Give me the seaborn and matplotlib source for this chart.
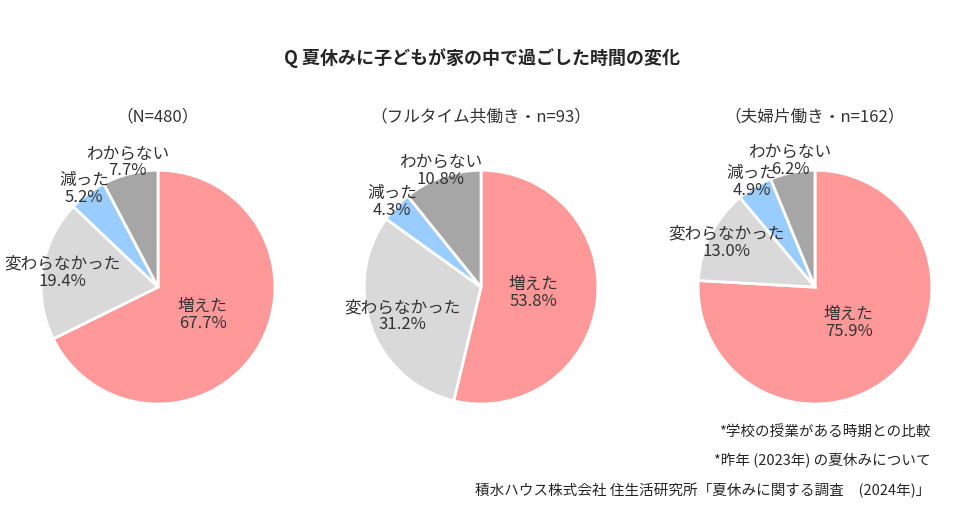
import seaborn as sns
import matplotlib.pyplot as plt
import numpy as np

sns.set_theme(style="white")
plt.rcParams['font.family'] = ['Noto Sans CJK JP', 'DejaVu Sans']

categories = ['増えた', '変わらなかった', '減った', 'わからない']
titles = ['（N=480）', '（フルタイム共働き・n=93）', '（夫婦片働き・n=162）']
values_all = [67.7, 19.4, 5.2, 7.7]
values_full = [53.8, 31.2, 4.3, 10.8]
values_single = [75.9, 13.0, 4.9, 6.2]
colors = ['#FF9999', '#D9D9D9', '#99CCFF', '#A6A6A6']
label_dist = [[0.45, 0.83, 1.05, 1.1],
              [0.45, 0.72, 1.05, 1.05],
              [0.42, 0.85, 1.05, 1.1]]

fig = plt.figure(figsize=(9.63, 5.23), dpi=100)
lefts = [0.0426, 0.378, 0.7248]
for i, vals in enumerate([values_all, values_full, values_single]):
    ax = fig.add_axes([lefts[i], 0.2275, 0.243, 0.447])
    ax.pie(vals, colors=colors, startangle=90, counterclock=False,
           wedgeprops=dict(edgecolor='white', linewidth=2))
    cum = 0
    for j, v in enumerate(vals):
        mid = np.deg2rad(90 - (cum + v / 2) / 100 * 360)
        cum += v
        d = label_dist[i][j]
        ax.text(d * np.cos(mid), d * np.sin(mid), f'{categories[j]}\n{v:.1f}%',
                ha='center', va='center', fontsize=12, color='#333333', linespacing=1.0)
    ax.set_xlim(-1.0, 1.0)
    ax.set_ylim(-1.0, 1.0)
    ax.set_aspect('equal')
    fig.text(lefts[i] + 0.1215, 0.776, titles[i], ha='center', va='center', fontsize=12, color='#333333')

fig.text(0.5, 0.889, 'Q 夏休みに子どもが家の中で過ごした時間の変化', ha='center', va='center',
         fontsize=13, fontweight='bold')
fig.text(0.966, 0.174, '*学校の授業がある時期との比較', ha='right', va='center', fontsize=10.5)
fig.text(0.966, 0.120, '*昨年 (2023年) の夏休みについて', ha='right', va='center', fontsize=10.5)
fig.text(0.966, 0.063, '積水ハウス株式会社 住生活研究所「夏休みに関する調査　(2024年)」', ha='right', va='center', fontsize=10.5)

fig.savefig('out.png', dpi=100)
